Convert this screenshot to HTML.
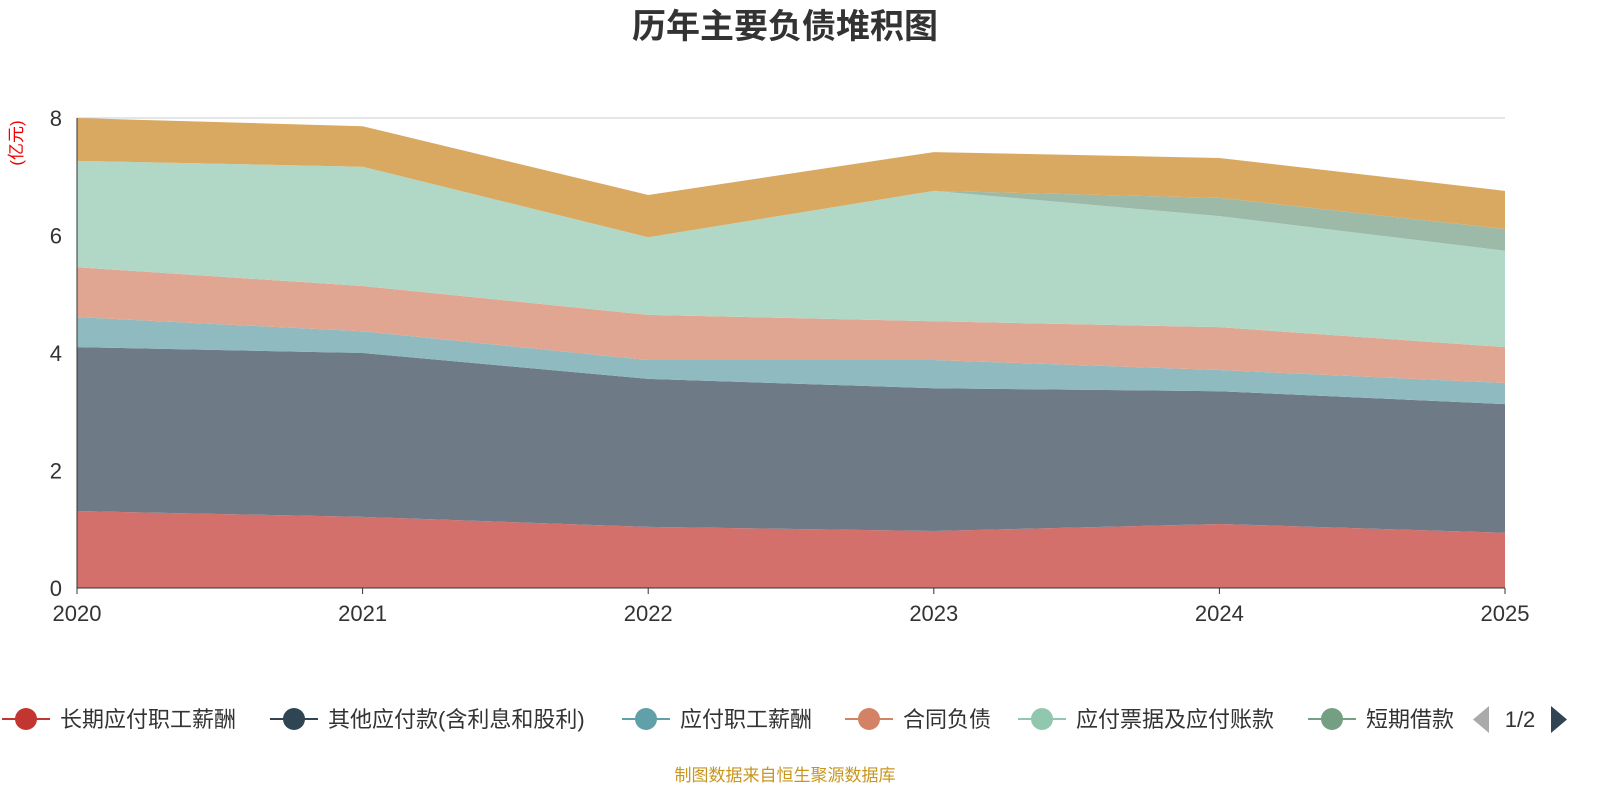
<!DOCTYPE html>
<html><head><meta charset="utf-8"><style>
body{margin:0;background:#fff;width:1600px;height:800px;overflow:hidden;font-family:"Liberation Sans","Noto Sans CJK SC",sans-serif}
</style></head><body>
<svg id="c" width="1600" height="800" style="font-family:'Liberation Sans','Noto Sans CJK SC',sans-serif">
<defs><clipPath id="lc"><rect x="0" y="690" width="1456" height="60"/></clipPath></defs>
<text x="785" y="38" text-anchor="middle" font-size="34" font-weight="bold" fill="#333">历年主要负债堆积图</text>
<text transform="translate(22,143) rotate(-90)" text-anchor="middle" font-size="17" fill="#e00">(亿元)</text>
<g id="grid"></g><g id="areas"></g><g id="axes"></g><g id="legend"></g>
<text x="785" y="781" text-anchor="middle" font-size="17" fill="#c8961e">制图数据来自恒生聚源数据库</text>
</svg>
<script>
const years=['2020','2021','2022','2023','2024','2025'];
const yTicks=[0,2,4,6,8];
const seriesNames=['长期应付职工薪酬','其他应付款(含利息和股利)','应付职工薪酬','合同负债','应付票据及应付账款','短期借款','其他'];
const s1=[1.31,1.21,1.04,0.97,1.09,0.94];
const s2=[2.79,2.79,2.52,2.43,2.26,2.19];
const s3=[0.51,0.37,0.32,0.48,0.36,0.36];
const s4=[0.85,0.77,0.77,0.66,0.73,0.61];
const s5=[1.81,2.03,1.32,2.22,1.89,1.64];
const s6=[0,0,0,0,0.31,0.37];
const s7=[0.73,0.69,0.72,0.66,0.68,0.65];
const fills=['#d3706c','#6e7b87','#8fbac0','#e1a691','#b1d8c7','#9cbaa7','#d9a962'];
const lcol=['#c23531','#2f4554','#61a0a8','#d48265','#91c7ae','#749f83'];
const NS='http://www.w3.org/2000/svg';
const X=i=>77+i*(1505-77)/5, Y=v=>588-v*(470/8);
function mk(t,a,p){const e=document.createElementNS(NS,t);for(const k in a)e.setAttribute(k,a[k]);p.appendChild(e);return e;}
const grid=document.getElementById('grid'),axes=document.getElementById('axes'),areas=document.getElementById('areas'),leg=document.getElementById('legend');
yTicks.forEach(v=>{
 const l=mk('line',{x1:77,x2:1505,y1:Y(v),y2:Y(v),stroke:v?'#ccc':'#333'},grid);
 
 const t=mk('text',{x:62,y:Y(v)+8,'text-anchor':'end','font-size':22,fill:'#333'},axes);t.textContent=v;
 
});
const all=[s1,s2,s3,s4,s5,s6,s7];let base=years.map(()=>0);
all.forEach((s,k)=>{
 const top=base.map((b,i)=>b+s[i]);
 let d='M'+top.map((v,i)=>X(i)+','+Y(v)).join('L');
 for(let i=years.length-1;i>=0;i--)d+='L'+X(i)+','+Y(base[i]);
 const p=mk('path',{d:d+'Z',fill:fills[k]},areas);
 
 base=top;
});
mk('line',{x1:77,x2:77,y1:118,y2:588,stroke:'#333'},axes);
mk('line',{x1:77,x2:1505,y1:588,y2:588,stroke:'#333'},axes);
years.forEach((y,i)=>{
 mk('line',{x1:X(i),x2:X(i),y1:588,y2:594,stroke:'#333'},axes);
 const t=mk('text',{x:X(i),y:621,'text-anchor':'middle','font-size':22,fill:'#333'},axes);t.textContent=y;
 
});
const lx=[2,270,622,845,1018,1308],tx=[60,328,680,903,1076,1366];
const lg=mk('g',{'clip-path':'url(#lc)'},leg);
seriesNames.slice(0,6).forEach((n,k)=>{
 const g=mk('g',{},lg);
 
 mk('line',{x1:lx[k],x2:lx[k]+48,y1:719,y2:719,stroke:lcol[k],'stroke-width':2},g);
 mk('circle',{cx:lx[k]+24,cy:719,r:11,fill:lcol[k]},g);
 const t=mk('text',{x:tx[k],y:727,'font-size':22,fill:'#333'},g);
 t.textContent=n;
});
const pp=mk('polygon',{points:'1489,706 1489,733 1473,719.5',fill:'#aaa'},leg);

const pt=mk('text',{x:1520,y:727,'text-anchor':'middle','font-size':22,fill:'#333'},leg);pt.textContent='1/2';

const np=mk('polygon',{points:'1551,706 1551,733 1567,719.5',fill:'#2f4554'},leg);

</script>
</body></html>
